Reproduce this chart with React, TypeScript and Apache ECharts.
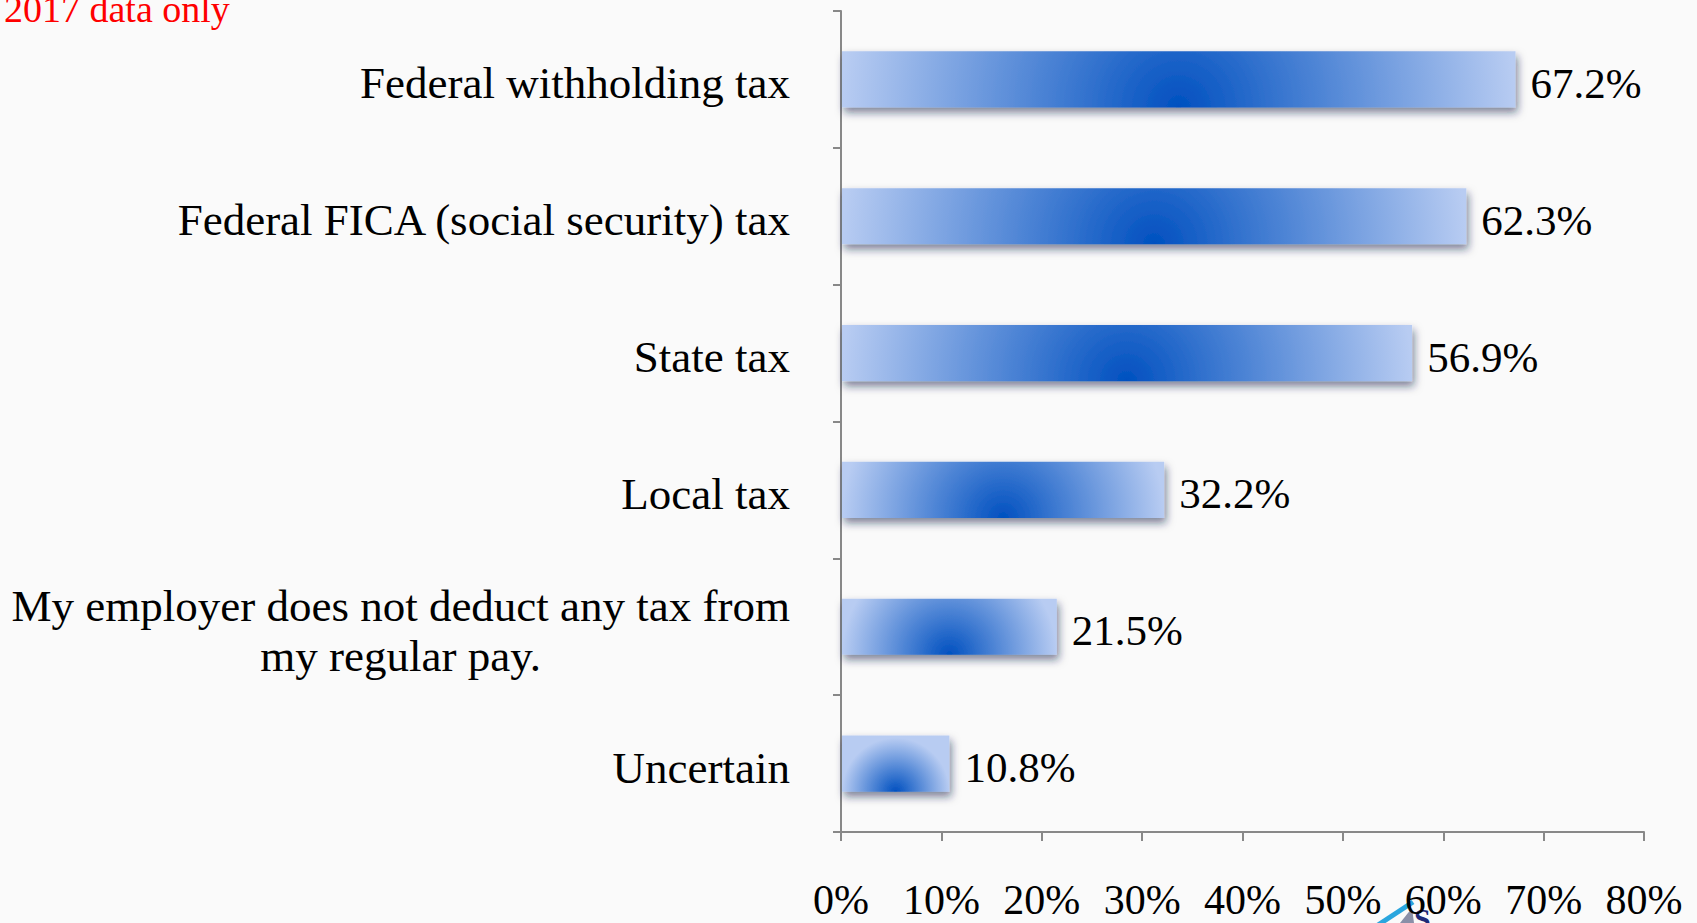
import React, { useEffect, useRef } from "react";
import * as echarts from "echarts";

const categories = [
  "Federal withholding tax",
  "Federal FICA (social security) tax",
  "State tax",
  "Local tax",
  "My employer does not deduct any tax from my regular pay.",
  "Uncertain",
];
const values = [67.2, 62.3, 56.9, 32.2, 21.5, 10.8];
const xTicks = { min: 0, max: 80, interval: 10 };
const titleText = "2017 data only";

const FONT = "'Liberation Serif', 'Times New Roman', serif";

export default function App() {
  const ref = useRef<HTMLDivElement>(null);
  useEffect(() => {
    if (!ref.current) return;
    const chart = echarts.init(ref.current, undefined, { renderer: "svg" });
    const data = values.map((v, i) => [i, v]);
    chart.setOption({
      animation: false,
      backgroundColor: "#fafafa",
      grid: { left: 841, right: 53, top: 11, bottom: 91, containLabel: false },
      xAxis: {
        type: "value",
        min: xTicks.min,
        max: xTicks.max,
        interval: xTicks.interval,
        splitLine: { show: false },
        axisLine: { show: true, lineStyle: { color: "#888", width: 2 } },
        axisTick: { show: true, length: 9, lineStyle: { color: "#888", width: 2 } },
        axisLabel: {
          formatter: "{value}%",
          margin: 47,
          fontSize: 42,
          fontFamily: FONT,
          color: "#000",
        },
      },
      yAxis: {
        type: "category",
        inverse: true,
        data: categories,
        axisLine: { show: true, lineStyle: { color: "#888", width: 2 } },
        axisTick: { show: true, length: 8, lineStyle: { color: "#888", width: 2 } },
        axisLabel: {
          margin: 51,
          fontSize: 45,
          fontFamily: FONT,
          color: "#000",
          padding: [8, 0, 0, 0],
          formatter: (v: string) =>
            v.length > 40
              ? "{c|My employer does not deduct any tax from\nmy regular pay.}"
              : v,
          rich: {
            c: {
              align: "center",
              fontSize: 45,
              lineHeight: 50,
              fontFamily: FONT,
              color: "#000",
            },
          },
        },
      },
      graphic: [
        {
          type: "text",
          left: 4,
          top: -10,
          style: {
            text: titleText,
            fill: "#ff0000",
            font: `38px ${FONT}`,
          },
        },
        {
          type: "line",
          shape: { x1: 1378, y1: 925, x2: 1413, y2: 902 },
          style: { stroke: "#2aa6de", lineWidth: 5 },
        },
        {
          type: "polygon",
          shape: { points: [[1400, 923], [1412, 908], [1414, 923]] },
          style: { fill: "#8a8fa8" },
        },
        {
          type: "text",
          x: 1414,
          y: 903,
          style: {
            text: "S",
            fill: "#1e2a78",
            font: `bold 30px ${FONT}`,
          },
        },
      ],
      series: [
        {
          type: "custom",
          data,
          encode: { x: 1, y: 0 },
          renderItem: (params: any, api: any) => {
            const cat = api.value(0);
            const val = api.value(1);
            const start = api.coord([0, cat]);
            const end = api.coord([val, cat]);
            const h = api.size([0, 1])[1] * 0.41;
            const x = start[0] + 1;
            const y = start[1] - h / 2;
            const w = end[0] - x;
            return {
              type: "group",
              children: [
                {
                  type: "rect",
                  shape: { x, y, width: w, height: h },
                  style: {
                    fill: new echarts.graphic.RadialGradient(
                      x + w / 2,
                      y + h,
                      w / 2,
                      [
                        { offset: 0, color: "#0050c0" },
                        { offset: 1, color: "#b8ccf2" },
                      ],
                      true
                    ),
                    shadowBlur: 8,
                    shadowOffsetX: 2,
                    shadowOffsetY: 5,
                    shadowColor: "rgba(20,35,70,0.55)",
                  },
                },
                {
                  type: "text",
                  x: end[0] + 15,
                  y: start[1] + 4,
                  style: {
                    text: val.toFixed(1) + "%",
                    fill: "#000",
                    font: `43px ${FONT}`,
                    align: "left",
                    verticalAlign: "middle",
                    textAlign: "left",
                    textVerticalAlign: "middle",
                  },
                },
              ],
            };
          },
        },
      ],
    });
    return () => chart.dispose();
  }, []);
  return (
    <div
      ref={ref}
      style={{ position: "fixed", left: 0, top: 0, width: "1697px", height: "923px" }}
    />
  );
}
